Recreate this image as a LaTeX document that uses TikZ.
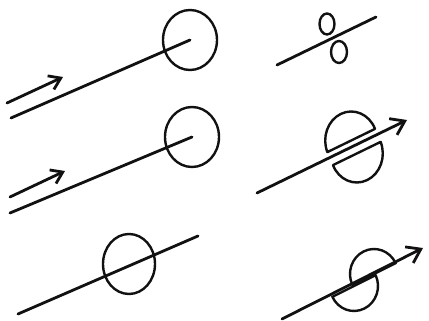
\documentclass[tikz,border=0pt]{standalone}
\usetikzlibrary{calc,arrows.meta}
\definecolor{tinta}{HTML}{111111}

\begin{document}
\begin{tikzpicture}[x=1pt,y=1pt,line cap=round,line join=round,
    rod/.style={tinta,line width=2.8pt},
    ring/.style={tinta,line width=2.4pt},
    flow/.style={rod,-{Straight Barb[length=11pt,width=15pt]}},
    bigflow/.style={rod,-{Straight Barb[length=13pt,width=18pt]}}]
  \useasboundingbox (0,0) rectangle (429,321);
  % left column: particle meets a ring
  \coordinate (A1) at (190,281);
  \draw[ring] (A1) ellipse[x radius=27pt,y radius=30pt];
  \draw[rod] (11,203) -- (A1);
  \draw[flow] (7,218) -- (63,244);

  \coordinate (A2) at (192,184);
  \draw[ring] (A2) ellipse[x radius=27pt,y radius=30pt];
  \draw[rod] (10,108) -- (A2);
  \draw[flow] (10,124) -- (65,150);

  \coordinate (A3) at (129,57);
  \draw[ring] (A3) ellipse[x radius=26pt,y radius=30pt];
  \draw[rod] (18,7) -- (198,85);

  % right column
  \draw[rod] (277,256) -- (376,304);
  \draw[ring] (327,297) ellipse[x radius=7.5pt,y radius=10.5pt];
  \draw[ring] (339,269) ellipse[x radius=8pt,y radius=11pt];

  \coordinate (B5) at (354,174);
  \draw[ring] ($(B5)+(-2.8,6.5)$) ++(23.6:26pt and 29pt)
      arc[start angle=23.6,end angle=203.6,x radius=26pt,y radius=29pt] -- cycle;
  \draw[ring] ($(B5)+(2.8,-6.5)$) ++(203.6:26pt and 29pt)
      arc[start angle=203.6,end angle=383.6,x radius=26pt,y radius=29pt] -- cycle;
  \draw[bigflow] (257,128) -- (407,201);

  \coordinate (B6) at (364,41);
  \draw[ring] ($(B6)+(10,6)$) ++(25.6:24pt and 25pt)
      arc[start angle=25.6,end angle=205.6,x radius=24pt,y radius=25pt] -- cycle;
  \draw[ring] ($(B6)+(-10,-6)$) ++(205.6:24pt and 25pt)
      arc[start angle=205.6,end angle=385.6,x radius=24pt,y radius=25pt] -- cycle;
  \draw[bigflow] (282,2) -- (423,73);
\end{tikzpicture}
\end{document}
